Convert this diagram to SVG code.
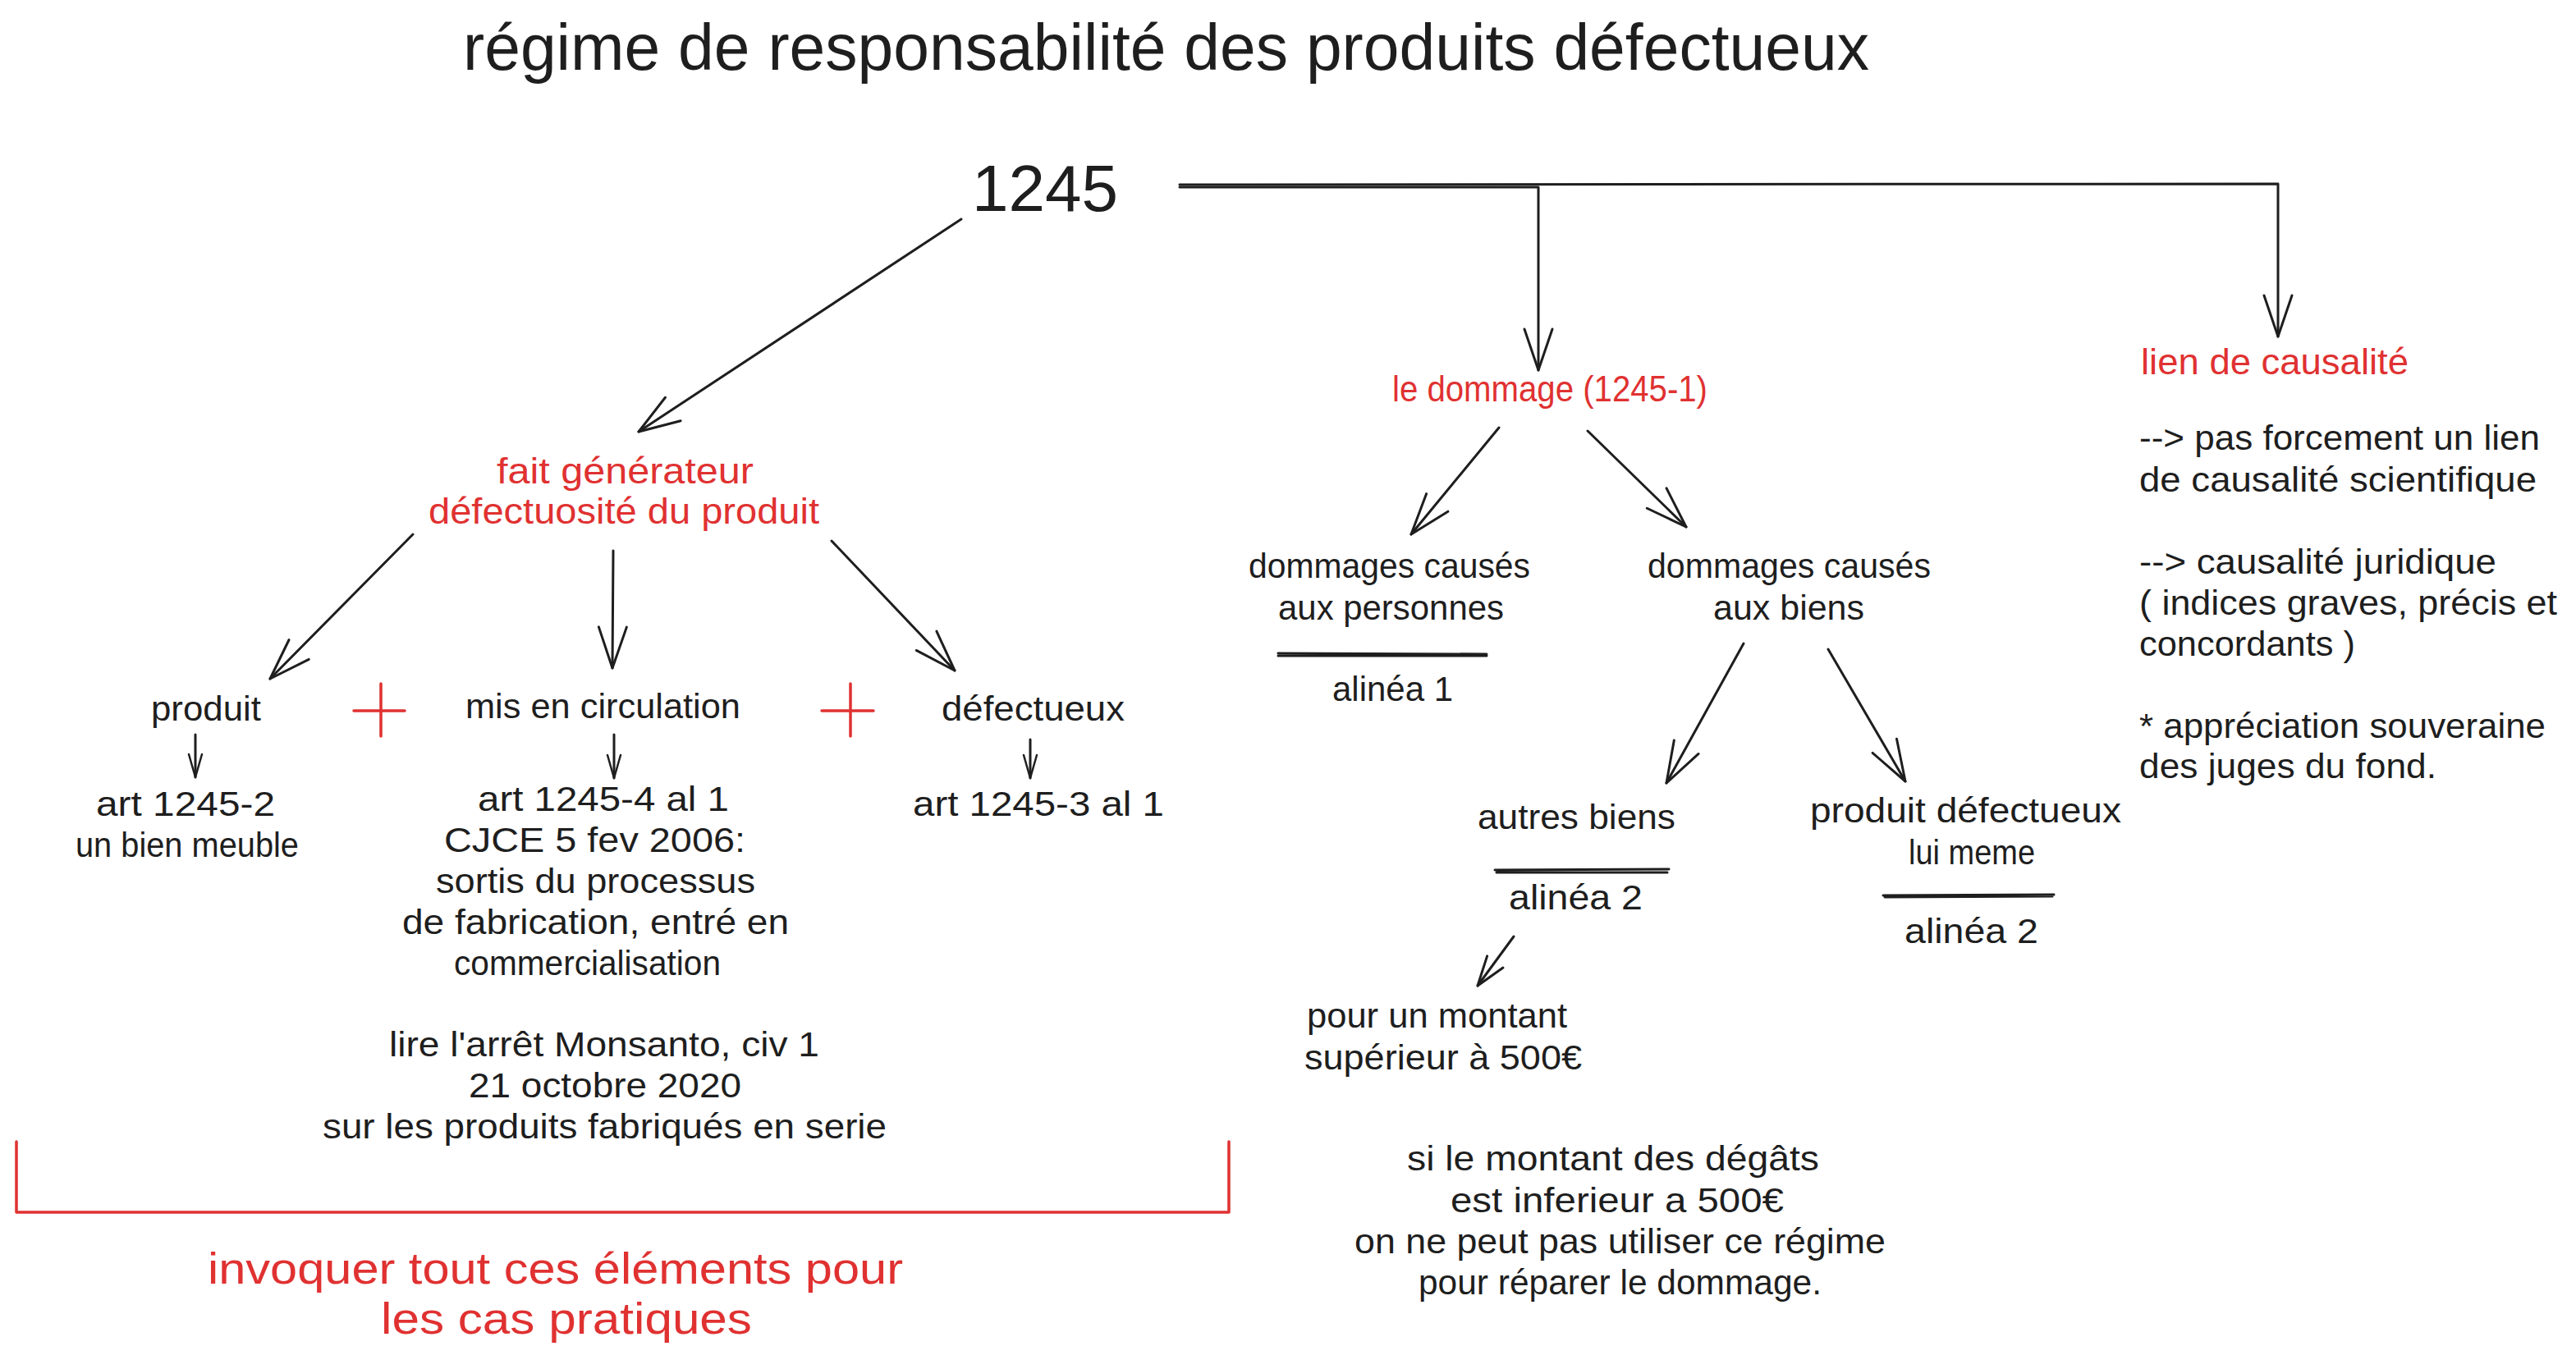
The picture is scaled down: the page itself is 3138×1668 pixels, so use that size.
<svg xmlns="http://www.w3.org/2000/svg" width="3138" height="1668" viewBox="0 0 3138 1668">
<style>
text{font-family:"Liberation Sans",Arial,sans-serif;fill:#1e1e1e;font-size:42px}
text.r{fill:#e03131}
text.s44{font-size:44px}
text.s54{font-size:54px}
text.s80{font-size:80px}
.ln{fill:none;stroke:#1e1e1e;stroke-width:3;stroke-linecap:round;stroke-linejoin:round}
.rl{fill:none;stroke:#e03131;stroke-width:3.5;stroke-linecap:round;stroke-linejoin:round}
.a{marker-end:url(#ah)}
.as{marker-end:url(#ahs)}
.am{marker-end:url(#ahm)}
</style>
<defs>
<marker id="ah" markerUnits="userSpaceOnUse" orient="auto" refX="0" refY="0" markerWidth="10" markerHeight="10" overflow="visible"><path d="M-50,-17 L0,0 L-50,17" fill="none" stroke="#1e1e1e" stroke-width="3" stroke-linecap="round" stroke-linejoin="round"/></marker>
<marker id="ahm" markerUnits="userSpaceOnUse" orient="auto" refX="0" refY="0" markerWidth="10" markerHeight="10" overflow="visible"><path d="M-36,-12 L0,0 L-36,12" fill="none" stroke="#1e1e1e" stroke-width="3" stroke-linecap="round" stroke-linejoin="round"/></marker>
<marker id="ahs" markerUnits="userSpaceOnUse" orient="auto" refX="0" refY="0" markerWidth="10" markerHeight="10" overflow="visible"><path d="M-28,-8 L0,0 L-28,8" fill="none" stroke="#1e1e1e" stroke-width="2.5" stroke-linecap="round" stroke-linejoin="round"/></marker>
</defs>
<rect width="3138" height="1668" fill="#ffffff"/>

<g id="title"><text class="s80" x="564" y="85" textLength="1713" lengthAdjust="spacingAndGlyphs">régime de responsabilité des produits défectueux</text></g>

<g id="n1245"><text class="s80" x="1184" y="257" textLength="178" lengthAdjust="spacingAndGlyphs">1245</text></g>

<g id="fait-generateur">
<text class="r s44" x="605" y="589" textLength="313" lengthAdjust="spacingAndGlyphs">fait générateur</text>
<text class="r s44" x="522" y="638" textLength="476" lengthAdjust="spacingAndGlyphs">défectuosité du produit</text>
</g>

<g id="produit"><text x="184" y="878" textLength="134" lengthAdjust="spacingAndGlyphs">produit</text></g>
<g id="plus1"><path class="rl" d="M464,833 V897 M431,866 H493"/></g>
<g id="mis-en-circulation"><text x="567" y="875" textLength="335" lengthAdjust="spacingAndGlyphs">mis en circulation</text></g>
<g id="plus2"><path class="rl" d="M1036,833 V897 M1001,866 H1064"/></g>
<g id="defectueux"><text x="1147" y="878" textLength="223" lengthAdjust="spacingAndGlyphs">défectueux</text></g>

<g id="art-1245-2">
<text x="117" y="994" textLength="218" lengthAdjust="spacingAndGlyphs">art 1245-2</text>
<text x="92" y="1044" textLength="272" lengthAdjust="spacingAndGlyphs">un bien meuble</text>
</g>

<g id="art-1245-4">
<text x="582" y="988" textLength="306" lengthAdjust="spacingAndGlyphs">art 1245-4 al 1</text>
<text x="541" y="1038" textLength="367" lengthAdjust="spacingAndGlyphs">CJCE 5 fev 2006:</text>
<text x="531" y="1088" textLength="389" lengthAdjust="spacingAndGlyphs">sortis du processus</text>
<text x="490" y="1138" textLength="471" lengthAdjust="spacingAndGlyphs">de fabrication, entré en</text>
<text x="553" y="1188" textLength="325" lengthAdjust="spacingAndGlyphs">commercialisation</text>
<text x="474" y="1287" textLength="524" lengthAdjust="spacingAndGlyphs">lire l'arrêt Monsanto, civ 1</text>
<text x="571" y="1337" textLength="332" lengthAdjust="spacingAndGlyphs">21 octobre 2020</text>
<text x="393" y="1387" textLength="687" lengthAdjust="spacingAndGlyphs">sur les produits fabriqués en serie</text>
</g>

<g id="art-1245-3"><text x="1112" y="994" textLength="306" lengthAdjust="spacingAndGlyphs">art 1245-3 al 1</text></g>

<g id="bracket"><path class="rl" d="M20,1391 V1477 H1497 V1391"/></g>

<g id="cas-pratiques">
<text class="r s54" x="253" y="1564" textLength="847" lengthAdjust="spacingAndGlyphs">invoquer tout ces éléments pour</text>
<text class="r s54" x="464" y="1625" textLength="452" lengthAdjust="spacingAndGlyphs">les cas pratiques</text>
</g>

<g id="le-dommage"><text class="r s44" x="1696" y="489" textLength="384" lengthAdjust="spacingAndGlyphs">le dommage (1245-1)</text></g>

<g id="lien-de-causalite"><text class="r s44" x="2608" y="456" textLength="326" lengthAdjust="spacingAndGlyphs">lien de causalité</text></g>

<g id="causalite-notes">
<text x="2606" y="548" textLength="488" lengthAdjust="spacingAndGlyphs">--&gt; pas forcement un lien</text>
<text x="2606" y="599" textLength="484" lengthAdjust="spacingAndGlyphs">de causalité scientifique</text>
<text x="2606" y="699" textLength="435" lengthAdjust="spacingAndGlyphs">--&gt; causalité juridique</text>
<text x="2606" y="749" textLength="509" lengthAdjust="spacingAndGlyphs">( indices graves, précis et</text>
<text x="2606" y="799" textLength="263" lengthAdjust="spacingAndGlyphs">concordants )</text>
<text x="2606" y="899" textLength="495" lengthAdjust="spacingAndGlyphs">* appréciation souveraine</text>
<text x="2606" y="948" textLength="362" lengthAdjust="spacingAndGlyphs">des juges du fond.</text>
</g>

<g id="dommages-personnes">
<text x="1521" y="704" textLength="343" lengthAdjust="spacingAndGlyphs">dommages causés</text>
<text x="1557" y="755" textLength="275" lengthAdjust="spacingAndGlyphs">aux personnes</text>
<path class="ln" d="M1557,796 L1811,797 M1557,799 L1811,799" stroke-width="2"/>
<text x="1623" y="854" textLength="147" lengthAdjust="spacingAndGlyphs">alinéa 1</text>
</g>

<g id="dommages-biens">
<text x="2007" y="704" textLength="345" lengthAdjust="spacingAndGlyphs">dommages causés</text>
<text x="2087" y="755" textLength="184" lengthAdjust="spacingAndGlyphs">aux biens</text>
</g>

<g id="autres-biens">
<text x="1800" y="1010" textLength="241" lengthAdjust="spacingAndGlyphs">autres biens</text>
<path class="ln" d="M1821,1060 L2033,1059 M1823,1063 L2031,1063" stroke-width="2"/>
<text x="1838" y="1108" textLength="163" lengthAdjust="spacingAndGlyphs">alinéa 2</text>
</g>

<g id="montant-superieur">
<text x="1592" y="1252" textLength="317" lengthAdjust="spacingAndGlyphs">pour un montant</text>
<text x="1589" y="1303" textLength="338" lengthAdjust="spacingAndGlyphs">supérieur à 500€</text>
</g>

<g id="produit-defectueux">
<text x="2205" y="1002" textLength="379" lengthAdjust="spacingAndGlyphs">produit défectueux</text>
<text x="2325" y="1053" textLength="154" lengthAdjust="spacingAndGlyphs">lui meme</text>
<path class="ln" d="M2294,1091 L2502,1090 M2296,1093 L2500,1092" stroke-width="2"/>
<text x="2320" y="1149" textLength="163" lengthAdjust="spacingAndGlyphs">alinéa 2</text>
</g>

<g id="montant-inferieur">
<text x="1714" y="1426" textLength="502" lengthAdjust="spacingAndGlyphs">si le montant des dégâts</text>
<text x="1767" y="1477" textLength="406" lengthAdjust="spacingAndGlyphs">est inferieur a 500€</text>
<text x="1650" y="1527" textLength="647" lengthAdjust="spacingAndGlyphs">on ne peut pas utiliser ce régime</text>
<text x="1728" y="1577" textLength="491" lengthAdjust="spacingAndGlyphs">pour réparer le dommage.</text>
</g>

<g id="connectors">
<path class="ln a" d="M1171,267 L778,526"/>
<path class="ln a" d="M1437,228 L1874,228 L1874,451"/>
<path class="ln a" d="M1437,225 L2775,224 L2775,410"/>
<path class="ln a" d="M503,651 L329,827"/>
<path class="ln a" d="M747,671 L746,814"/>
<path class="ln a" d="M1013,659 L1163,817"/>
<path class="ln as" d="M238,895 L238,947"/>
<path class="ln as" d="M748,895 L748,948"/>
<path class="ln as" d="M1255,901 L1255,948"/>
<path class="ln a" d="M1826,521 L1719,651"/>
<path class="ln a" d="M1934,525 L2054,642"/>
<path class="ln a" d="M2124,784 L2030,954"/>
<path class="ln a" d="M2227,791 L2321,952"/>
<path class="ln am" d="M1844,1141 L1800,1201"/>
</g>
</svg>
